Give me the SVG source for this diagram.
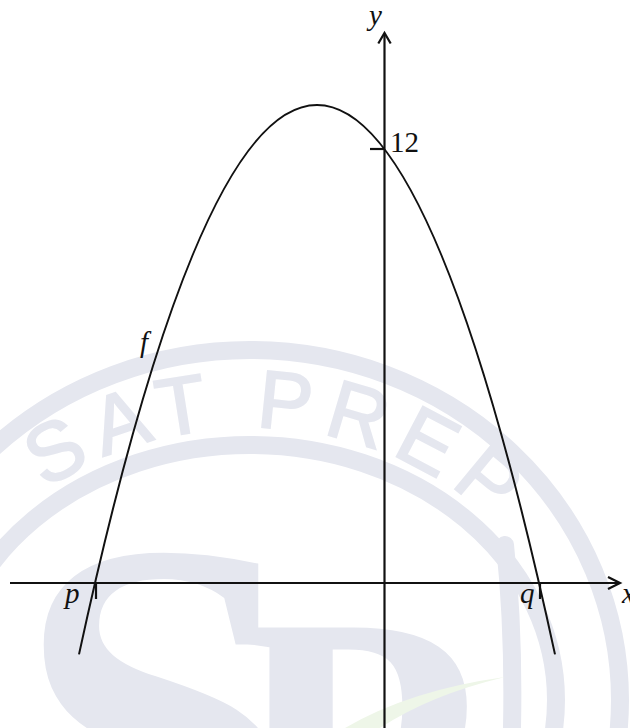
<svg xmlns="http://www.w3.org/2000/svg" width="630" height="728" viewBox="0 0 630 728">
  <defs>
    <style>
      .wm { fill: none; stroke: #e5e7ef; stroke-width: 18; }
      .wmtext { font-family: "Liberation Sans", Arial, sans-serif; font-size: 82px; fill: #e5e7ef; stroke: #e5e7ef; stroke-width: 2; letter-spacing: 12px; }
      .wmbig { font-family: "Liberation Serif", "Times New Roman", serif; font-weight: bold; fill: #e5e7ef; }
      .ax { fill: none; stroke: #111; stroke-width: 2.2; stroke-linecap: butt; }
      .crv { fill: none; stroke: #111; stroke-width: 2; }
      .lbl { font-family: "Liberation Serif", "Times New Roman", serif; font-size: 29px; font-style: italic; fill: #111; }
      .num { font-family: "Liberation Serif", "Times New Roman", serif; font-size: 29px; fill: #111; }
    </style>
    <path id="wmarc" d="M -72 700 A 322 272 0 0 1 572 700"/>
  </defs>
  <rect x="0" y="0" width="630" height="728" fill="#ffffff"/>

  <g id="watermark">
    <ellipse class="wm" cx="250" cy="700" rx="370" ry="350"/>
    <ellipse class="wm" cx="250" cy="700" rx="306" ry="255"/>
    <path class="wm" d="M 505 545 Q 514 630 512 728" stroke-linecap="round"/>
    <text class="wmtext"><textPath href="#wmarc" startOffset="250">SAT PREP</textPath></text>
    <text class="wmbig" x="14" y="897" font-size="520">S</text>
    <text class="wmbig" x="228" y="896" font-size="410">P</text>
    <path d="M 505 677 Q 410 690 345 728 L 380 728 Q 430 695 505 677 Z" fill="#eef6e8"/>
  </g>

  <g id="axes">
    <line class="ax" x1="10" y1="583" x2="619" y2="583"/>
    <polyline class="ax" points="608,577 620,583 608,589"/>
    <line class="ax" x1="384.5" y1="728" x2="384.5" y2="34"/>
    <polyline class="ax" points="378.3,43.5 384.5,33 390.7,43.5"/>
    <line class="ax" x1="370" y1="149" x2="384.5" y2="149"/>
    <line class="ax" x1="96" y1="583" x2="96" y2="599"/>
    <line class="ax" x1="540" y1="583" x2="540" y2="599"/>
  </g>

  <g id="curve-f">
    <path class="crv" d="M 79 654.4 Q 317 -444.4 555 654.4"/>
  </g>

  <g id="labels">
    <text class="lbl" x="369" y="25">y</text>
    <text class="num" x="390" y="152">12</text>
    <text class="lbl" x="140" y="352">f</text>
    <text class="lbl" x="65" y="603">p</text>
    <text class="lbl" x="520" y="603">q</text>
    <text class="lbl" x="622" y="603">x</text>
  </g>
</svg>
